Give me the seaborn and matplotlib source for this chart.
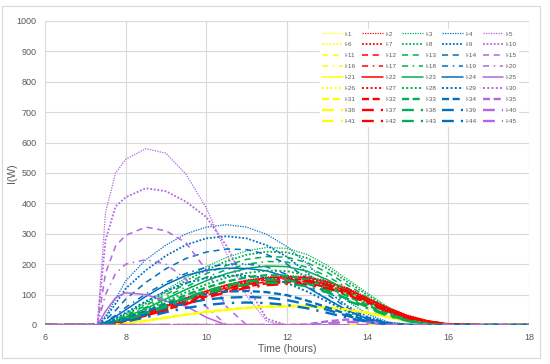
import matplotlib
matplotlib.use('Agg')
import matplotlib.pyplot as plt
from matplotlib.lines import Line2D
from matplotlib.patches import Rectangle
import seaborn as sns

# time axis shared by every series (hours)
hours = [6, 7, 7.3, 7.5, 7.75, 8, 8.5, 9, 9.5, 10, 10.5, 11, 11.5, 12,
         12.5, 13, 13.5, 14, 14.5, 15, 15.5, 16, 17, 18]

# yellow group
i01 = [0, 0, 0, 0, 0, 0, 0, 0, 0, 0, 0, 0, 0, 0, 0, 0, 0, 0, 0, 0, 0, 0, 0, 0]
i06 = [0, 0, 0, 0, 0, 0, 0, 0, 0, 0, 0, 0, 0, 0, 0, 0, 0, 0, 0, 0, 0, 0, 0, 0]
i11 = [0, 0, 0, 0, 0, 0, 0, 0, 0, 0, 0, 0, 0, 0, 0, 0, 0, 0, 0, 0, 0, 0, 0, 0]
i16 = [0, 0, 0, 0, 0, 0, 0, 0, 0, 0, 0, 0, 0, 0, 0, 0, 0, 0, 0, 0, 0, 0, 0, 0]
i21 = [0, 0, 0, 1, 3, 6, 14, 24, 34, 43, 50, 56, 60, 62, 61, 57, 50, 40, 26, 12, 4, 1, 0, 0]
i26 = [0, 0, 0, 1, 2, 5, 13, 23, 33, 42, 49, 55, 59, 61, 60, 56, 49, 39, 25, 11, 4, 1, 0, 0]
i31 = [0, 0, 0, 1, 3, 6, 14, 25, 35, 44, 51, 57, 61, 63, 62, 58, 51, 41, 27, 13, 5, 1, 0, 0]
i36 = [0, 0, 0, 0, 0, 0, 0, 0, 0, 0, 0, 0, 0, 0, 0, 0, 0, 0, 0, 0, 0, 0, 0, 0]
i41 = [0, 0, 0, 0, 0, 0, 0, 0, 0, 0, 0, 0, 0, 0, 0, 0, 0, 0, 0, 0, 0, 0, 0, 0]

# red group
i02 = [0, 0, 0, 3, 8, 20, 42, 65, 90, 113, 133, 148, 158, 162, 159, 145, 122, 90, 58, 32, 14, 4, 0, 0]
i07 = [0, 0, 0, 2, 7, 18, 38, 60, 85, 108, 128, 142, 152, 156, 153, 138, 115, 83, 53, 28, 12, 3, 0, 0]
i12 = [0, 0, 0, 2, 6, 16, 35, 56, 80, 103, 122, 137, 147, 151, 148, 134, 112, 80, 50, 26, 11, 3, 0, 0]
i17 = [0, 0, 0, 2, 6, 15, 33, 53, 76, 98, 117, 132, 142, 146, 143, 130, 108, 78, 48, 25, 10, 2, 0, 0]
i22 = [0, 0, 0, 3, 8, 19, 40, 63, 88, 111, 131, 146, 155, 159, 156, 142, 119, 87, 56, 30, 13, 3, 0, 0]
i27 = [0, 0, 0, 2, 7, 17, 37, 58, 83, 105, 125, 140, 149, 153, 150, 136, 114, 82, 52, 27, 11, 3, 0, 0]
i32 = [0, 0, 0, 2, 5, 14, 31, 50, 72, 94, 112, 127, 137, 141, 138, 125, 104, 75, 46, 24, 10, 2, 0, 0]
i37 = [0, 0, 0, 2, 6, 16, 34, 55, 78, 100, 120, 134, 144, 148, 145, 132, 110, 79, 49, 26, 11, 3, 0, 0]
i42 = [0, 0, 0, 2, 5, 13, 29, 48, 69, 90, 108, 122, 131, 135, 133, 121, 100, 72, 44, 23, 9, 2, 0, 0]

# green group
i03 = [0, 0, 0, 8, 20, 38, 75, 115, 155, 192, 222, 244, 255, 252, 232, 196, 150, 104, 60, 26, 7, 1, 0, 0]
i08 = [0, 0, 0, 7, 18, 34, 70, 108, 146, 181, 210, 231, 241, 239, 220, 186, 142, 98, 56, 24, 6, 1, 0, 0]
i13 = [0, 0, 0, 6, 16, 31, 64, 100, 136, 169, 196, 216, 225, 223, 205, 173, 132, 90, 51, 22, 6, 1, 0, 0]
i18 = [0, 0, 0, 5, 14, 28, 58, 92, 126, 157, 182, 200, 209, 207, 190, 160, 122, 83, 47, 20, 5, 1, 0, 0]
i23 = [0, 0, 0, 5, 13, 26, 54, 86, 117, 146, 169, 186, 194, 192, 177, 149, 113, 77, 43, 18, 5, 1, 0, 0]
i28 = [0, 0, 0, 4, 11, 23, 49, 79, 108, 134, 156, 171, 179, 177, 163, 137, 104, 71, 40, 17, 4, 1, 0, 0]
i33 = [0, 0, 0, 4, 10, 21, 45, 72, 99, 123, 143, 157, 164, 162, 149, 126, 95, 65, 36, 15, 4, 1, 0, 0]
i38 = [0, 0, 0, 3, 9, 19, 40, 65, 90, 112, 130, 143, 149, 147, 136, 114, 86, 59, 33, 14, 3, 0, 0, 0]
i43 = [0, 0, 0, 3, 8, 17, 37, 60, 84, 104, 121, 133, 139, 137, 127, 107, 80, 55, 30, 13, 3, 0, 0, 0]

# blue group
i04 = [0, 0, 0, 30, 85, 145, 215, 263, 300, 322, 330, 322, 298, 258, 202, 135, 78, 36, 10, 2, 0, 0, 0, 0]
i09 = [0, 0, 0, 24, 70, 120, 180, 228, 264, 285, 292, 285, 262, 224, 172, 112, 62, 27, 8, 1, 0, 0, 0, 0]
i14 = [0, 0, 0, 16, 48, 85, 140, 185, 219, 240, 250, 248, 232, 200, 152, 100, 56, 25, 8, 1, 0, 0, 0, 0]
i19 = [0, 0, 0, 10, 32, 58, 102, 140, 170, 190, 200, 201, 191, 166, 127, 86, 47, 20, 6, 1, 0, 0, 0, 0]
i24 = [0, 0, 0, 9, 28, 50, 94, 133, 163, 180, 187, 186, 178, 158, 124, 85, 48, 20, 6, 1, 0, 0, 0, 0]
i29 = [0, 0, 0, 7, 22, 40, 78, 112, 138, 155, 162, 162, 155, 138, 110, 77, 44, 19, 6, 1, 0, 0, 0, 0]
i34 = [0, 0, 0, 4, 12, 22, 45, 68, 88, 102, 110, 112, 108, 98, 80, 58, 35, 15, 4, 0, 0, 0, 0, 0]
i39 = [0, 0, 0, 3, 9, 16, 35, 55, 72, 84, 90, 92, 90, 82, 68, 50, 30, 12, 3, 0, 0, 0, 0, 0]
i44 = [0, 0, 0, 2, 6, 11, 25, 42, 56, 66, 72, 74, 72, 66, 55, 40, 24, 10, 2, 0, 0, 0, 0, 0]

# purple group
i05 = [0, 0, 0, 370, 500, 545, 580, 565, 495, 385, 235, 95, 12, 0, 0, 0, 0, 0, 0, 0, 0, 0, 0, 0]
i10 = [0, 0, 0, 280, 390, 420, 450, 440, 405, 355, 260, 130, 20, 0, 0, 0, 0, 0, 0, 0, 0, 0, 0, 0]
i15 = [0, 0, 0, 170, 260, 295, 322, 310, 270, 180, 60, 0, 0, 0, 0, 0, 0, 0, 0, 0, 0, 0, 0, 0]
i20 = [0, 0, 0, 100, 170, 200, 215, 200, 150, 60, 0, 0, 0, 0, 0, 0, 0, 0, 0, 0, 0, 0, 0, 0]
i25 = [0, 0, 0, 45, 90, 106, 100, 78, 62, 25, 0, 0, 0, 0, 0, 0, 0, 0, 0, 0, 0, 0, 0, 0]
i30 = [0, 0, 0, 0, 0, 0, 0, 0, 0, 0, 0, 0, 0, 0, 0, 0, 0, 0, 0, 0, 0, 0, 0, 0]
i35 = [0, 0, 0, 0, 0, 0, 0, 0, 0, 0, 0, 0, 0, 0, 2, 12, 18, 12, 2, 0, 0, 0, 0, 0]
i40 = [0, 0, 0, 0, 0, 0, 0, 0, 0, 0, 0, 0, 0, 0, 0, 5, 10, 8, 2, 0, 0, 0, 0, 0]
i45 = [0, 0, 0, 0, 0, 0, 0, 0, 0, 0, 0, 0, 0, 0, 0, 0, 0, 0, 0, 0, 0, 0, 0, 0]

series = [i01, i02, i03, i04, i05, i06, i07, i08, i09, i10,
          i11, i12, i13, i14, i15, i16, i17, i18, i19, i20,
          i21, i22, i23, i24, i25, i26, i27, i28, i29, i30,
          i31, i32, i33, i34, i35, i36, i37, i38, i39, i40,
          i41, i42, i43, i44, i45]
names = ['I-%d' % (k + 1) for k in range(len(series))]

# one colour per legend column, one line style per legend row
colors = ['#FFFF00', '#FF0000', '#00B050', '#0070C0', '#B366E0']
styles = [((0, (1, 1)), 0.9),
          ((0, (1, 1)), 1.3),
          ((0, (4, 3)), 1.1),
          ((0, (4, 3, 1, 3)), 1.1),
          ('-', 1.1),
          ((0, (1, 1.2)), 1.4),
          ((0, (3, 1.5)), 1.7),
          ((0, (5, 3)), 1.7),
          ((0, (5, 3, 1, 3)), 1.7)]

sns.set_theme(style='white')
plt.rcParams['font.family'] = ['Liberation Sans', 'DejaVu Sans']

fig = plt.figure(figsize=(5.5, 3.64), dpi=100)
ax = fig.add_axes([45 / 550, 1 - 325 / 364, 484 / 550, 304 / 364])

handles = []
for k, vals in enumerate(series):
    c = colors[k % 5]
    ls, lw = styles[k // 5]
    sns.lineplot(x=hours, y=vals, ax=ax, color=c, linewidth=lw, linestyle=ls)
    handles.append(Line2D([], [], color=c, linewidth=lw, linestyle=ls))

ax.set_xlim(6, 18)
ax.set_ylim(0, 1000)
ax.set_xticks(range(6, 19, 2))
ax.set_yticks(range(0, 1001, 100))
ax.grid(True, color='#D9D9D9', linewidth=0.8)
ax.set_axisbelow(True)
for s in ax.spines.values():
    s.set_visible(False)
ax.tick_params(length=0, labelsize=6.5, colors='#595959', pad=6)
ax.set_xlabel('Time (hours)', fontsize=7.5, color='#595959')
ax.set_ylabel('I(W)', fontsize=7.5, color='#595959')
ax.xaxis.set_label_coords(0.5, -19 / 304)
ax.yaxis.set_label_coords(-28 / 484, 0.5)

# legend is laid out row by row (I-1..I-5 on the first row)
order = [r * 5 + c for c in range(5) for r in range(9)]
leg = fig.legend([handles[k] for k in order], [names[k] for k in order],
                 ncol=5, loc='upper left', bbox_to_anchor=(317 / 550, 1 - 26 / 364),
                 fontsize=4.6, frameon=True, framealpha=1, edgecolor='white',
                 facecolor='white', fancybox=False, borderpad=0.3,
                 handlelength=3.2, handletextpad=0.35, columnspacing=1.0,
                 labelspacing=0.85)
for t in leg.get_texts():
    t.set_color('#595959')

fig.patches.append(Rectangle((2 / 550, 6 / 364), 538 / 550, 352 / 364,
                             transform=fig.transFigure, fill=False,
                             edgecolor='#D9D9D9', linewidth=0.8))

fig.savefig('out.png', dpi=100)
